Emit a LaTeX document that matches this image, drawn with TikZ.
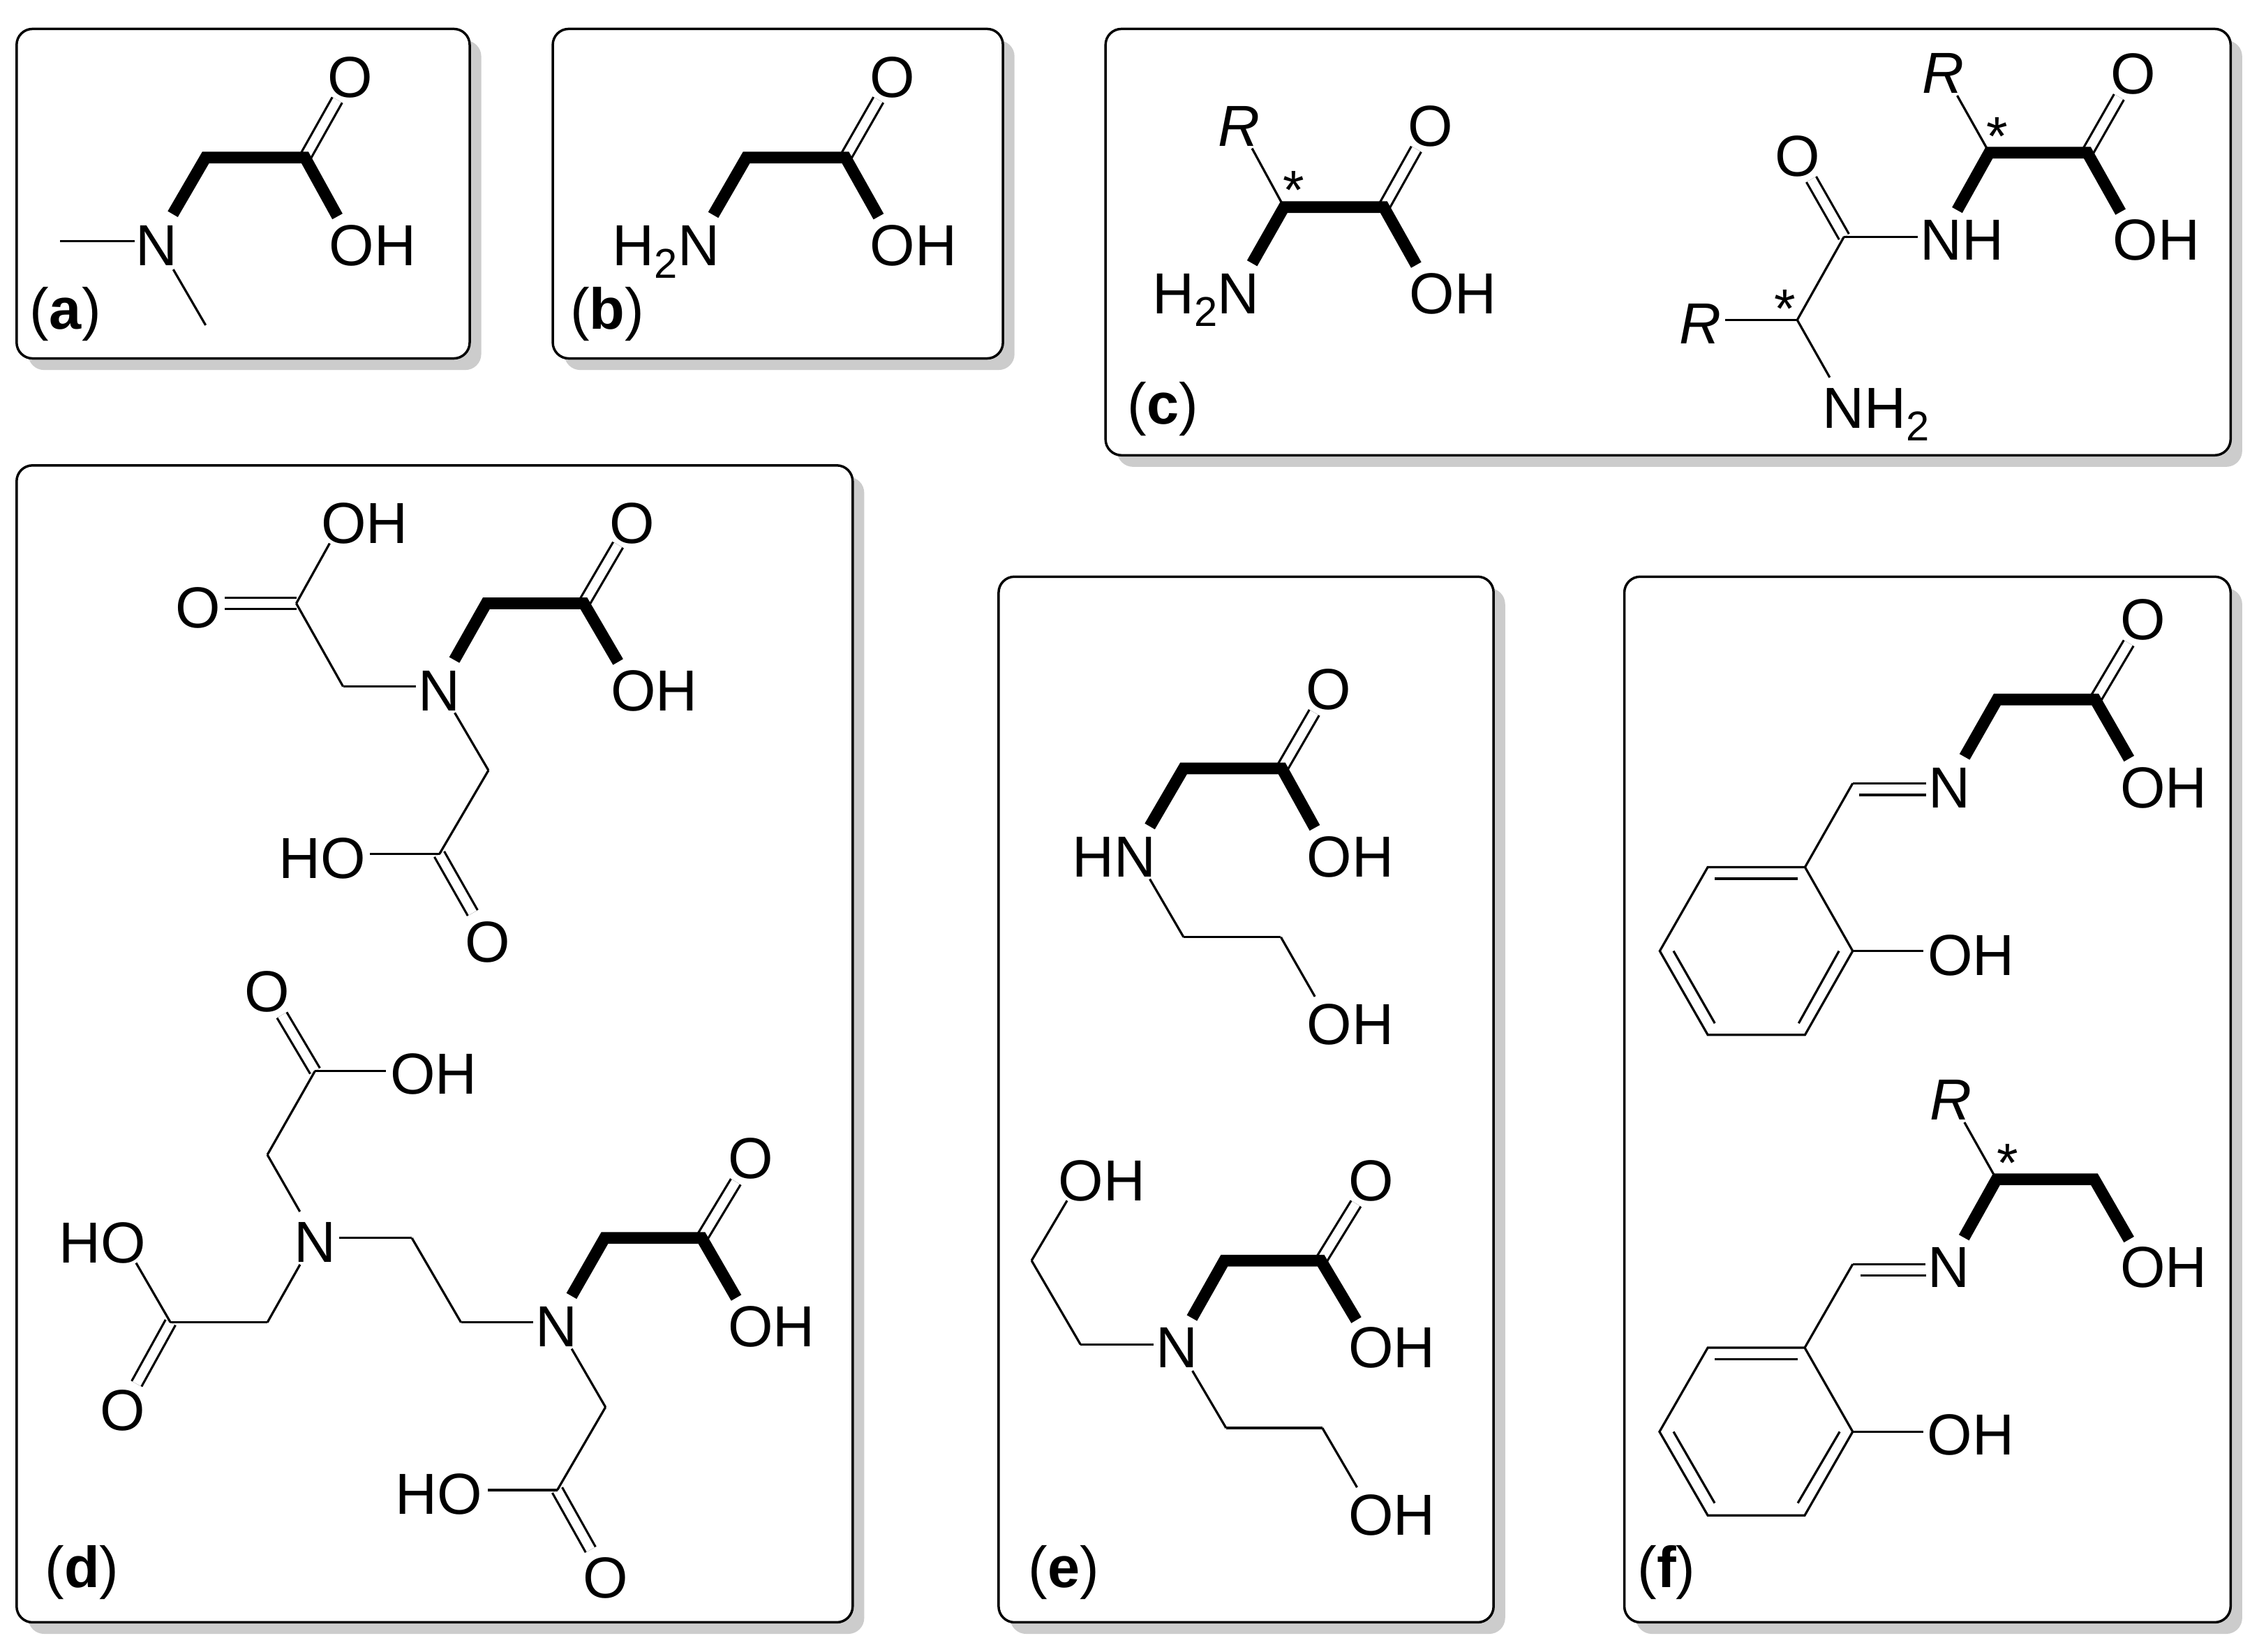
\documentclass[tikz,border=0pt]{standalone}
\usepackage{fontspec}
\setmainfont{Liberation Sans}
\tikzset{
  x=0.05cm,y=-0.05cm,
  panel/.style={draw=black,line width=2.4pt,fill=white,rounded corners=0.55cm},
  backing/.style={fill=black!20,rounded corners=0.55cm},
  thinbond/.style={line width=2.2pt},
  boldbond/.style={line width=11.5pt,line join=miter,miter limit=10},
  dblbond/.style={line width=2.2pt,double=white,double distance=8.8pt},
  toatom/.style={shorten >=#1},
  fromatom/.style={shorten <=#1},
  atom/.style={inner sep=0pt,yshift=-1.4pt,font=\fontsize{57}{57}\selectfont},
  tagtext/.style={inner sep=0pt,anchor=base west,yshift=-2.2pt,font=\fontsize{57}{57}\selectfont},
  starmark/.style={inner sep=0pt,anchor=base,yshift=2pt,font=\fontsize{54}{54}\selectfont},
}
\newcommand{\subtwo}{\smash{\raisebox{-0.22em}{\fontsize{41}{41}\selectfont 2}}}
\begin{document}
\begin{tikzpicture}
\useasboundingbox (0,0) rectangle (1568,1142.6);
\fill[white] (0,0) rectangle (1568,1142.6);
% ---------- panels ----------
\foreach \xa/\ya/\xb/\yb in {11.5/20/325/248,382.5/20/694/248,765/20/1543.5/315,11.5/322/590/1122.5,691/399/1033.5/1122.5,1124/399/1543.5/1122.5}{
  \fill[backing] (\xa+8,\ya+8) rectangle (\xb+8,\yb+8);
  \draw[panel] (\xa,\ya) rectangle (\xb,\yb);
}
% ---------- a ----------
\coordinate (aN) at (108.6,167);
\coordinate (aCH) at (142.3,109);
\coordinate (aC) at (211,109);
\coordinate (aOd) at (243,52);
\coordinate (aOH) at (243,167);
\coordinate (aM1) at (41.6,167);
\coordinate (aM2) at (142.3,225);
\draw[dblbond,toatom=28pt] (aC) -- (aOd);
\draw[boldbond,fromatom=31pt,toatom=28pt] (aN) -- (aCH) -- (aC) -- (aOH);
\draw[thinbond,toatom=22pt] (aM1) -- (aN);
\draw[thinbond,fromatom=32pt] (aN) -- (aM2);
\node[atom] (aNl) at (108.6,168.8) {N};
\node[atom] (aOdl) at (242.5,52.8) {O};
\node[atom,anchor=west] (aOHl) at (227.6,168.8) {OH};
\node[tagtext] (atag) at (20.5,226.3) {(\textbf{a})};
% ---------- b ----------
\coordinate (bN) at (483,167);
\coordinate (bCH) at (516.5,109);
\coordinate (bC) at (585,109);
\coordinate (bOd) at (617.6,52);
\coordinate (bOH) at (617.6,167);
\draw[dblbond,toatom=28pt] (bC) -- (bOd);
\draw[boldbond,fromatom=30pt,toatom=28pt] (bN) -- (bCH) -- (bC) -- (bOH);
\node[atom,anchor=east] (bNl) at (498,168.8) {H\subtwo N};
\node[atom] (bOdl) at (617.6,52.8) {O};
\node[atom,anchor=west] (bOHl) at (601.8,168.8) {OH};
\node[tagtext] (btag) at (394.5,226.3) {(\textbf{b})};
% ---------- c left ----------
\coordinate (cR) at (857.3,86);
\coordinate (cS) at (888.5,143.3);
\coordinate (cC) at (957.5,143.3);
\coordinate (cOd) at (989.6,86);
\coordinate (cOH) at (989.6,200.5);
\coordinate (cN) at (856,200.5);
\draw[dblbond,toatom=28pt] (cC) -- (cOd);
\draw[thinbond,fromatom=27pt] (cR) -- (cS);
\draw[boldbond,fromatom=30pt,toatom=28pt] (cN) -- (cS) -- (cC) -- (cOH);
\node[atom] (cRl) at (857.3,86.2) {\itshape R};
\node[starmark] (cstar) at (895,146) {*};
\node[atom] (cOdl) at (989.6,86.2) {O};
\node[atom,anchor=west] (cOHl) at (975.3,202.2) {OH};
\node[atom,anchor=east] (cNl) at (871.6,202.2) {H\subtwo N};
\node[tagtext] (ctag) at (780,292) {(\textbf{c})};
% ---------- c right ----------
\coordinate (dR) at (1345,49.6);
\coordinate (dS) at (1376.5,105.6);
\coordinate (dC) at (1444.3,105.6);
\coordinate (dOd) at (1476,50);
\coordinate (dOH) at (1477,163.8);
\coordinate (dNH) at (1344,163.8);
\coordinate (dAm) at (1276,163.8);
\coordinate (dAO) at (1243.6,107);
\coordinate (dS2) at (1243.6,221.4);
\coordinate (dR2) at (1176.4,221.4);
\coordinate (dNH2) at (1276.5,279.5);
\draw[dblbond,toatom=28pt] (dC) -- (dOd);
\draw[dblbond,toatom=28pt] (dAm) -- (dAO);
\draw[thinbond,fromatom=27pt] (dR) -- (dS);
\draw[boldbond,fromatom=30pt,toatom=28pt] (dNH) -- (dS) -- (dC) -- (dOH);
\draw[thinbond,toatom=24pt] (dAm) -- (dNH);
\draw[thinbond] (dAm) -- (dS2);
\draw[thinbond,toatom=25pt] (dS2) -- (dR2);
\draw[thinbond,toatom=30pt] (dS2) -- (dNH2);
\node[atom] (dRl) at (1344.8,49.6) {\itshape R};
\node[starmark] (dstar1) at (1382,109) {*};
\node[starmark] (dstar2) at (1235,228) {*};
\node[atom] (dOdl) at (1476,50) {O};
\node[atom] (dAOl) at (1243.6,107) {O};
\node[atom,anchor=west] (dOHl) at (1462,165.3) {OH};
\node[atom,anchor=west] (dNHl) at (1328.5,165.3) {NH};
\node[atom] (dR2l) at (1176.4,223) {\itshape R};
\node[atom,anchor=west] (dNH2l) at (1261,281.3) {NH\subtwo};
% ---------- d top ----------
\coordinate (eOH1) at (237,360);
\coordinate (eC1) at (205,417.5);
\coordinate (eO1) at (137,417.5);
\coordinate (eCH1) at (237.4,475);
\coordinate (eN) at (304,475);
\coordinate (eCH2) at (336.5,417.5);
\coordinate (eC2) at (404,417.5);
\coordinate (eO2) at (437.6,360);
\coordinate (eOH2) at (437.6,475);
\coordinate (eCH3) at (338,533);
\coordinate (eC3) at (304,591);
\coordinate (eOH3) at (237.5,591);
\coordinate (eO3) at (337.5,650);
\draw[dblbond,toatom=26pt] (eC1) -- (eO1);
\draw[dblbond,toatom=28pt] (eC2) -- (eO2);
\draw[dblbond,toatom=30pt] (eC3) -- (eO3);
\draw[thinbond,toatom=26pt] (eC1) -- (eOH1);
\draw[thinbond] (eC1) -- (eCH1);
\draw[thinbond,toatom=23pt] (eCH1) -- (eN);
\draw[boldbond,fromatom=30pt,toatom=28pt] (eN) -- (eCH2) -- (eC2) -- (eOH2);
\draw[thinbond,fromatom=30pt] (eN) -- (eCH3);
\draw[thinbond] (eCH3) -- (eC3);
\draw[thinbond,toatom=26pt] (eC3) -- (eOH3);
\node[atom,anchor=west] (eOH1l) at (222,361) {OH};
\node[atom] (eO1l) at (137,419.6) {O};
\node[atom] (eNl) at (304,477) {N};
\node[atom] (eO2l) at (437.6,361) {O};
\node[atom,anchor=west] (eOH2l) at (422.4,477) {OH};
\node[atom,anchor=east] (eOH3l) at (253,593) {HO};
\node[atom] (eO3l) at (337.5,651) {O};
% ---------- d bottom ----------
\coordinate (fO1) at (185,685.4);
\coordinate (fC1) at (218,741);
\coordinate (fOH1) at (286,741);
\coordinate (fCH1) at (185,799);
\coordinate (fN1) at (218,856.6);
\coordinate (fE1) at (285,856.6);
\coordinate (fE2) at (319,915);
\coordinate (fN2) at (385,915);
\coordinate (fCH2) at (185,915);
\coordinate (fC2) at (118,915);
\coordinate (fOH2) at (85,858);
\coordinate (fO2) at (85,974.7);
\coordinate (fCH3) at (418.4,856.6);
\coordinate (fC3) at (485.6,856.6);
\coordinate (fO3) at (519.3,800.8);
\coordinate (fOH3) at (519.3,915);
\coordinate (fCH4) at (419,973.6);
\coordinate (fC4) at (385.6,1031);
\coordinate (fOH4) at (318.5,1031);
\coordinate (fO4) at (419,1090.6);
\draw[dblbond,toatom=28pt] (fC1) -- (fO1);
\draw[dblbond,toatom=28pt] (fC2) -- (fO2);
\draw[dblbond,toatom=28pt] (fC3) -- (fO3);
\draw[dblbond,toatom=30pt] (fC4) -- (fO4);
\draw[thinbond,toatom=27pt] (fC1) -- (fOH1);
\draw[thinbond] (fC1) -- (fCH1);
\draw[thinbond,toatom=30pt] (fCH1) -- (fN1);
\draw[thinbond,fromatom=24pt] (fN1) -- (fE1);
\draw[thinbond] (fE1) -- (fE2);
\draw[thinbond,toatom=23pt] (fE2) -- (fN2);
\draw[thinbond,fromatom=30pt] (fN1) -- (fCH2);
\draw[thinbond] (fCH2) -- (fC2);
\draw[thinbond,toatom=26pt] (fC2) -- (fOH2);
\draw[boldbond,fromatom=30pt,toatom=28pt] (fN2) -- (fCH3) -- (fC3) -- (fOH3);
\draw[thinbond,fromatom=30pt] (fN2) -- (fCH4);
\draw[thinbond] (fCH4) -- (fC4);
\draw[thinbond,toatom=27pt] (fC4) -- (fOH4);
\node[atom] (fO1l) at (185,685.4) {O};
\node[atom,anchor=west] (fOH1l) at (270,742.3) {OH};
\node[atom] (fN1l) at (218,858.5) {N};
\node[atom] (fN2l) at (385,917) {N};
\node[atom,anchor=east] (fOH2l) at (101,859) {HO};
\node[atom] (fO2l) at (85,974.7) {O};
\node[atom] (fO3l) at (519.3,800.8) {O};
\node[atom,anchor=west] (fOH3l) at (503.7,917) {OH};
\node[atom,anchor=east] (fOH4l) at (334,1033) {HO};
\node[atom] (fO4l) at (419,1090.6) {O};
\node[tagtext] (dtag) at (31,1097) {(\textbf{d})};
% ---------- e top ----------
\coordinate (gO) at (919.3,476);
\coordinate (gC) at (887,531.7);
\coordinate (gCH) at (819,531.7);
\coordinate (gN) at (785,590);
\coordinate (gOH) at (919.3,590);
\coordinate (gE1) at (819,648.4);
\coordinate (gE2) at (886.3,648.4);
\coordinate (gOH2) at (919.3,706);
\draw[dblbond,toatom=28pt] (gC) -- (gO);
\draw[boldbond,fromatom=30pt,toatom=28pt] (gN) -- (gCH) -- (gC) -- (gOH);
\draw[thinbond,fromatom=30pt] (gN) -- (gE1);
\draw[thinbond] (gE1) -- (gE2);
\draw[thinbond,toatom=27pt] (gE2) -- (gOH2);
\node[atom] (gOl) at (919.3,476) {O};
\node[atom,anchor=east] (gNl) at (800,592) {HN};
\node[atom,anchor=west] (gOHl) at (904.2,592) {OH};
\node[atom,anchor=west] (gOH2l) at (904.2,708) {OH};
% ---------- e bottom ----------
\coordinate (hOH1) at (747.7,815);
\coordinate (hA1) at (713.8,872.2);
\coordinate (hA2) at (747.7,930.3);
\coordinate (hN) at (814.4,930.3);
\coordinate (hCH) at (847.2,872.2);
\coordinate (hC) at (914,872.2);
\coordinate (hO) at (948.6,816);
\coordinate (hOH) at (948.6,930.3);
\coordinate (hB1) at (848.4,988);
\coordinate (hB2) at (915,988);
\coordinate (hOH2) at (948.6,1045.5);
\draw[dblbond,toatom=28pt] (hC) -- (hO);
\draw[thinbond,toatom=26pt] (hA1) -- (hOH1);
\draw[thinbond] (hA1) -- (hA2);
\draw[thinbond,toatom=23pt] (hA2) -- (hN);
\draw[boldbond,fromatom=30pt,toatom=28pt] (hN) -- (hCH) -- (hC) -- (hOH);
\draw[thinbond,fromatom=30pt] (hN) -- (hB1);
\draw[thinbond] (hB1) -- (hB2);
\draw[thinbond,toatom=27pt] (hB2) -- (hOH2);
\node[atom,anchor=west] (hOH1l) at (732.2,816) {OH};
\node[atom] (hNl) at (814.4,931.7) {N};
\node[atom] (hOl) at (948.6,816) {O};
\node[atom,anchor=west] (hOHl) at (933,931.7) {OH};
\node[atom,anchor=west] (hOH2l) at (933,1047.4) {OH};
\node[tagtext] (etag) at (711.5,1097) {(\textbf{e})};
% ---------- f top ----------
\coordinate (iO) at (1483,428);
\coordinate (iC) at (1449.8,484);
\coordinate (iCH) at (1382,484);
\coordinate (iN) at (1349,542);
\coordinate (iOH) at (1483,542);
\coordinate (iIm) at (1282,542);
\coordinate (iImA) at (1286.6,550);
\coordinate (iImB) at (1333,550);
\coordinate (iR1) at (1249,600);
\coordinate (iR2) at (1282,658);
\coordinate (iR3) at (1249,716);
\coordinate (iR4) at (1181.7,716);
\coordinate (iR5) at (1148.5,658);
\coordinate (iR6) at (1181.7,600);
\coordinate (iOH2) at (1349,658);
\coordinate (iIa) at (1186.6,608);
\coordinate (iIb) at (1243.8,608);
\coordinate (iIc) at (1272.5,658);
\coordinate (iId) at (1244.6,708);
\coordinate (iIe) at (1158,658);
\coordinate (iIf) at (1186.6,708);
\draw[thinbond,toatom=23pt] (iIm) -- (iN);
\draw[thinbond] (iImA) -- (iImB);
\draw[dblbond,toatom=28pt] (iC) -- (iO);
\draw[boldbond,fromatom=30pt,toatom=28pt] (iN) -- (iCH) -- (iC) -- (iOH);
\draw[thinbond] (iIm) -- (iR1);
\draw[thinbond,line join=miter] (iR1) -- (iR2) -- (iR3) -- (iR4) -- (iR5) -- (iR6) -- cycle;
\draw[thinbond,toatom=26pt] (iR2) -- (iOH2);
\draw[thinbond] (iIa) -- (iIb);
\draw[thinbond] (iIc) -- (iId);
\draw[thinbond] (iIe) -- (iIf);
\node[atom] (iOl) at (1483,428) {O};
\node[atom] (iNl) at (1349,544) {N};
\node[atom,anchor=west] (iOHl) at (1467,544) {OH};
\node[atom,anchor=west] (iOH2l) at (1333.8,660) {OH};
% ---------- f bottom ----------
\coordinate (jR) at (1350,760);
\coordinate (jS) at (1381.5,816);
\coordinate (jC) at (1449.2,816);
\coordinate (jOH) at (1483,874.7);
\coordinate (jN) at (1348.7,874.7);
\coordinate (jIm) at (1282,874.7);
\coordinate (jImA) at (1287.3,882.5);
\coordinate (jImB) at (1333,882.5);
\coordinate (jR1) at (1248.8,932.5);
\coordinate (jR2) at (1282,990.6);
\coordinate (jR3) at (1248.8,1048.5);
\coordinate (jR4) at (1181.7,1048.5);
\coordinate (jR5) at (1148.3,990.6);
\coordinate (jR6) at (1181.7,932.5);
\coordinate (jOH2) at (1349,990.6);
\coordinate (jIa) at (1186.5,940.6);
\coordinate (jIb) at (1244,940.6);
\coordinate (jIc) at (1273,990.6);
\coordinate (jId) at (1244,1040);
\coordinate (jIe) at (1158,990.6);
\coordinate (jIf) at (1186.5,1040);
\draw[thinbond,fromatom=27pt] (jR) -- (jS);
\draw[thinbond,toatom=23pt] (jIm) -- (jN);
\draw[thinbond] (jImA) -- (jImB);
\draw[boldbond,fromatom=30pt,toatom=28pt] (jN) -- (jS) -- (jC) -- (jOH);
\draw[thinbond] (jIm) -- (jR1);
\draw[thinbond,line join=miter] (jR1) -- (jR2) -- (jR3) -- (jR4) -- (jR5) -- (jR6) -- cycle;
\draw[thinbond,toatom=26pt] (jR2) -- (jOH2);
\draw[thinbond] (jIa) -- (jIb);
\draw[thinbond] (jIc) -- (jId);
\draw[thinbond] (jIe) -- (jIf);
\node[atom] (jRl) at (1350,760) {\itshape R};
\node[starmark] (jstar) at (1389,819) {*};
\node[atom] (jNl) at (1348.7,876) {N};
\node[atom,anchor=west] (jOHl) at (1467,876) {OH};
\node[atom,anchor=west] (jOH2l) at (1333.5,992) {OH};
\node[tagtext] (ftag) at (1133,1097) {(\textbf{f})};
\end{tikzpicture}
\end{document}
